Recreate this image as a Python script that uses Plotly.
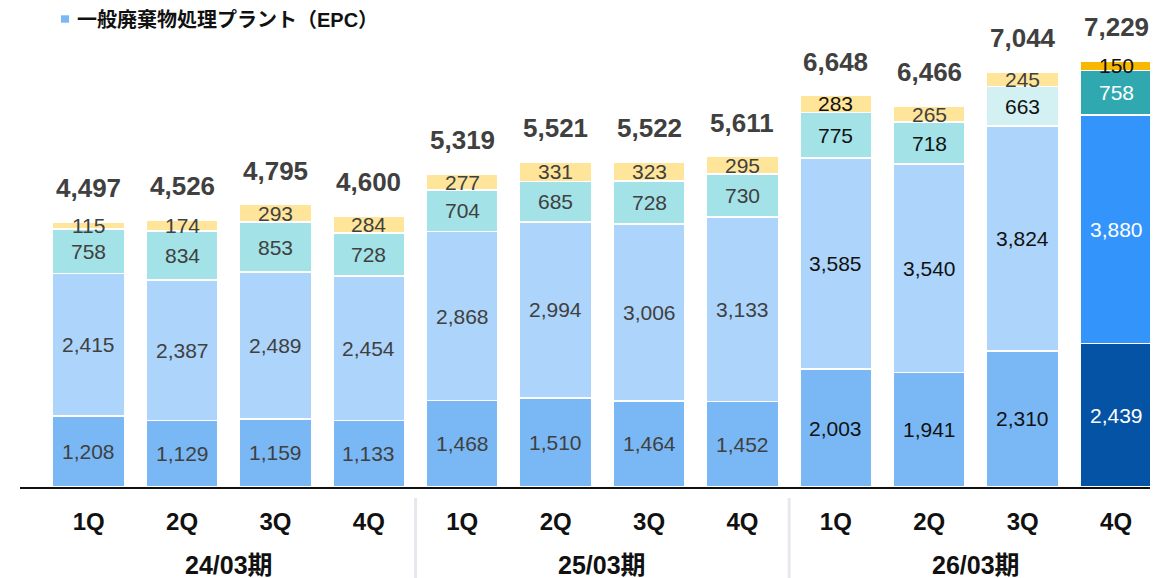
import plotly.graph_objects as go

quarters = ["1Q", "2Q", "3Q", "4Q"] * 3
periods = ["24/03期", "25/03期", "26/03期"]
seg1 = [1208, 1129, 1159, 1133, 1468, 1510, 1464, 1452, 2003, 1941, 2310, 2439]
seg2 = [2415, 2387, 2489, 2454, 2868, 2994, 3006, 3133, 3585, 3540, 3824, 3880]
seg3 = [758, 834, 853, 728, 704, 685, 728, 730, 775, 718, 663, 758]
seg4 = [115, 174, 293, 284, 277, 331, 323, 295, 283, 265, 245, 150]
totals = [4497, 4526, 4795, 4600, 5319, 5521, 5522, 5611, 6648, 6466, 7044, 7229]
legend_name = "一般廃棄物処理プラント（EPC）"

c1 = ["#7ab8f5"] * 11 + ["#0553a5"]
c2 = ["#add5fb"] * 11 + ["#3394fc"]
c3 = ["#a3e2e6"] * 10 + ["#d3f0f2", "#30a8b0"]
c4 = ["#ffe599"] * 11 + ["#f8b800"]

x = list(range(len(quarters)))
segs = [seg1, seg2, seg3, seg4]
cols = [c1, c2, c3, c4]

fig = go.Figure()
for i, (s, c) in enumerate(zip(segs, cols)):
    fig.add_trace(go.Bar(
        x=x, y=s, marker=dict(color=c, line=dict(color="white", width=1.5)),
        name=legend_name if i == 0 else f"s{i}",
        showlegend=False, width=0.77,
    ))

FONT = "Liberation Sans, Arial, Noto Sans CJK JP, sans-serif"
ann = []
for j in x:
    base = 0
    for i, s in enumerate(segs):
        v = s[j]
        mid = base + v / 2
        base += v
        if j == 11:
            col = "white" if i < 3 else "#111111"
        elif j >= 8 and not (i == 3 and j in (9, 10)):
            col = "#111111"
        else:
            col = "#404040"
        ann.append(dict(x=j, y=mid, text=f"{v:,}", showarrow=False,
                        font=dict(size=21, color=col, family=FONT),
                        xref="x", yref="y", yanchor="middle"))
    ann.append(dict(x=j, y=totals[j], text=f"<b>{totals[j]:,}</b>", showarrow=False,
                    yanchor="middle", yshift=34,
                    font=dict(size=26, color="#404040", family=FONT), xref="x", yref="y"))

for k, p in enumerate(periods):
    ann.append(dict(x=1.5 + 4 * k, y=-0.163, text=f"<b>{p}</b>", showarrow=False,
                    xref="x", yref="paper", yanchor="middle",
                    font=dict(size=25, color="#111111", family=FONT)))

# legend (single entry)
ann.append(dict(x=0.0492, y=1.0, xref="paper", yref="paper", xanchor="left",
                yanchor="top", showarrow=False, borderpad=0, text="<b>" + legend_name + "</b>",
                font=dict(size=20, color="#111111", family=FONT)))

shapes = [dict(type="rect", xref="paper", yref="paper", x0=0.036, x1=0.0431,
               y0=0.9693, y1=0.9848, fillcolor="#7ab8f5", line=dict(width=0))]
for sx in [3.5, 7.5]:
    shapes.append(dict(type="line", xref="x", yref="paper", x0=sx, x1=sx,
                       y0=-0.023, y1=-0.2, line=dict(color="#e5e8ec", width=3)))

fig.update_layout(
    barmode="stack",
    width=1150, height=570,
    margin=dict(l=12, r=0, t=0, b=91),
    plot_bgcolor="white", paper_bgcolor="white",
    font=dict(family=FONT),
    showlegend=False,
    annotations=ann, shapes=shapes,
    xaxis=dict(range=[-0.735, 11.449], tickmode="array", tickvals=x,
               ticktext=[f"<b>{q}</b>" for q in quarters],
               tickfont=dict(size=24, color="#111111", family=FONT),
               ticks="outside", ticklen=12, tickcolor="rgba(0,0,0,0)",
               showline=True, linecolor="#111111", linewidth=1.5,
               showgrid=False, zeroline=False),
    yaxis=dict(range=[0, 8134], visible=False, showgrid=False),
)
fig.write_html("out.html")
